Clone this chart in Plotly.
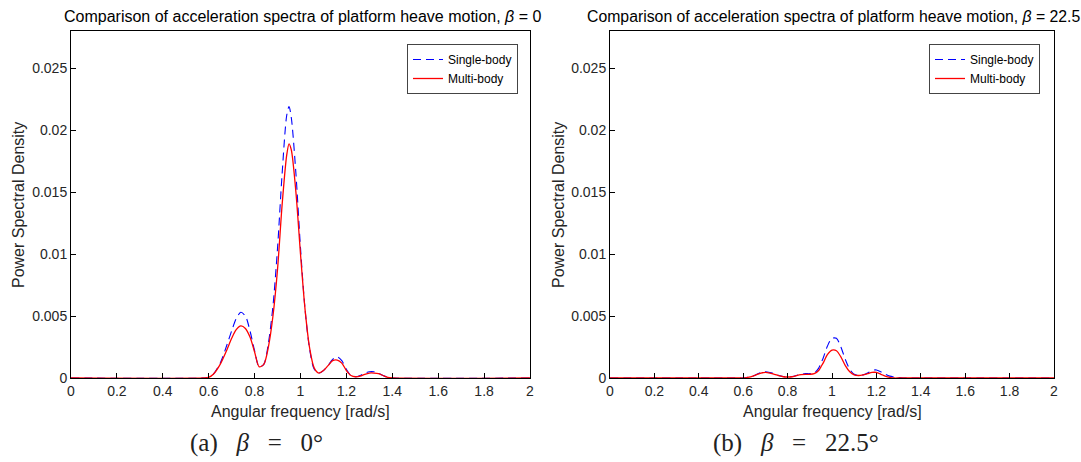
import plotly.graph_objects as go

freq = [0.0, 0.58, 0.6, 0.62, 0.65, 0.68, 0.7, 0.72, 0.74, 0.76, 0.78, 0.8, 0.82, 0.84,
        0.86, 0.88, 0.9, 0.92, 0.94, 0.95, 0.96, 0.98, 1.0, 1.02, 1.04, 1.06, 1.08, 1.1,
        1.12, 1.14, 1.16, 1.18, 1.2, 1.22, 1.24, 1.26, 1.28, 1.3, 1.32, 1.34, 1.36, 1.38,
        1.4, 2.0]

# (a) beta = 0
single_a = [0, 0, 0.00005, 0.0003, 0.0012, 0.0027, 0.0038, 0.0048, 0.0053, 0.0050, 0.0038,
            0.0022, 0.0009, 0.0011, 0.0028, 0.0058, 0.0105, 0.0165, 0.0212, 0.0219, 0.0210,
            0.0165, 0.0105, 0.0055, 0.0023, 0.0007, 0.0004, 0.0006, 0.0010, 0.0015, 0.0017,
            0.0014, 0.0007, 0.0002, 0.0001, 0.0002, 0.0004, 0.0005, 0.0005, 0.0004, 0.0002,
            0.00005, 0, 0]
multi_a = [0, 0, 0.00005, 0.0003, 0.0011, 0.0023, 0.0032, 0.0039, 0.0042, 0.0040, 0.0033,
           0.0021, 0.0009, 0.0011, 0.0025, 0.0050, 0.0088, 0.0140, 0.0180, 0.0189, 0.0184,
           0.0150, 0.0100, 0.0055, 0.0024, 0.0008, 0.0004, 0.0006, 0.0010, 0.0014, 0.00145,
           0.0012, 0.0006, 0.0002, 0.0001, 0.00015, 0.0003, 0.0004, 0.0004, 0.00035, 0.0002,
           0.00005, 0, 0]

# (b) beta = 22.5
single_b = [0, 0, 0, 0.00005, 0.0002, 0.00045, 0.0005, 0.00045, 0.00035, 0.0002, 0.00012,
            0.0001, 0.00012, 0.0002, 0.0003, 0.00035, 0.00035, 0.0004, 0.0008, 0.0012, 0.0016,
            0.0026, 0.0032, 0.0032, 0.0025, 0.0015, 0.0007, 0.0003, 0.0002, 0.00025, 0.0004,
            0.0006, 0.00065, 0.0005, 0.0003, 0.00015, 0.00008, 0.00003, 0, 0, 0, 0, 0, 0]
multi_b = [0, 0, 0, 0.00005, 0.0002, 0.0004, 0.00045, 0.0004, 0.0003, 0.0002, 0.0001,
           0.00008, 0.0001, 0.0002, 0.00028, 0.0003, 0.0003, 0.00035, 0.0006, 0.0009, 0.0012,
           0.0019, 0.00225, 0.0022, 0.0017, 0.0010, 0.0005, 0.00025, 0.0002, 0.00025, 0.00035,
           0.00045, 0.00045, 0.0003, 0.00015, 0.00005, 0, 0, 0, 0, 0, 0, 0, 0]

x_ticks = [0, 0.2, 0.4, 0.6, 0.8, 1, 1.2, 1.4, 1.6, 1.8, 2]
x_labels = ["0", "0.2", "0.4", "0.6", "0.8", "1", "1.2", "1.4", "1.6", "1.8", "2"]
y_ticks = [0, 0.005, 0.01, 0.015, 0.02, 0.025]
y_labels = ["0", "0.005", "0.01", "0.015", "0.02", "0.025"]

titles = ["Comparison of acceleration spectra of platform heave motion, <i>β</i> = 0",
          "Comparison of acceleration spectra of platform heave motion, <i>β</i> = 22.5"]
SP = "&nbsp;&nbsp;&nbsp;"
captions = ["(a)" + SP + "<i>β</i>" + SP + "=" + SP + "0°",
            "(b)" + SP + "<i>β</i>" + SP + "=" + SP + "22.5°"]

W, H = 1081, 462
fig = go.Figure()

BLUE = "#0000ff"
RED = "#ff0000"
DASH = "8px,5px"
SANS = "Liberation Sans, Arial, sans-serif"
SERIF = "Liberation Serif, DejaVu Serif, serif"

for i, (s, m) in enumerate([(single_a, multi_a), (single_b, multi_b)]):
    xa = "x" if i == 0 else "x2"
    ya = "y" if i == 0 else "y2"
    lg = "legend" if i == 0 else "legend2"
    fig.add_trace(go.Scatter(x=freq, y=s, mode="lines", name="Single-body",
                             line=dict(color=BLUE, width=1.1, dash=DASH, shape="spline", smoothing=0.8),
                             xaxis=xa, yaxis=ya, legend=lg))
    fig.add_trace(go.Scatter(x=freq, y=m, mode="lines", name="Multi-body",
                             line=dict(color=RED, width=1.3, shape="spline", smoothing=0.8),
                             xaxis=xa, yaxis=ya, legend=lg))

def px_x(p):
    return p / W

def px_y(p):
    return 1 - p / H

top, bottom = 31, 378
dom_y = [px_y(bottom), px_y(top)]
dom_x1 = [px_x(71), px_x(530)]
dom_x2 = [px_x(610), px_x(1054)]

axis_common = dict(showline=True, mirror=True, linecolor="black", linewidth=1,
                   ticks="inside", ticklen=5, tickcolor="black", showgrid=False,
                   zeroline=False, automargin=False,
                   tickfont=dict(family=SANS, size=14, color="#262626"))

fig.update_layout(
    template="none",
    width=W, height=H,
    margin=dict(l=0, r=0, t=0, b=0, pad=0),
    paper_bgcolor="white", plot_bgcolor="white",
    xaxis=dict(domain=dom_x1, range=[0, 2], tickvals=x_ticks, ticktext=x_labels, anchor="y", **axis_common),
    yaxis=dict(domain=dom_y, range=[0, 0.028], tickvals=y_ticks, ticktext=y_labels, anchor="x", **axis_common),
    xaxis2=dict(domain=dom_x2, range=[0, 2], tickvals=x_ticks, ticktext=x_labels, anchor="y2", **axis_common),
    yaxis2=dict(domain=dom_y, range=[0, 0.028], tickvals=y_ticks, ticktext=y_labels, anchor="x2", **axis_common),
    legend=dict(x=px_x(518), y=px_y(44), xanchor="right", yanchor="top",
                bordercolor="#444", borderwidth=1, bgcolor="white",
                font=dict(family=SANS, size=12, color="black"),
                tracegroupgap=0, itemwidth=30),
    legend2=dict(x=px_x(1040), y=px_y(44), xanchor="right", yanchor="top",
                 bordercolor="#444", borderwidth=1, bgcolor="white",
                 font=dict(family=SANS, size=12, color="black"),
                 tracegroupgap=0, itemwidth=30),
    showlegend=True,
)

ann = []
ann.append(dict(text=titles[0], x=px_x(62), y=px_y(16), xref="paper", yref="paper",
                xanchor="left", yanchor="middle", showarrow=False,
                font=dict(family=SANS, size=16, color="black")))
ann.append(dict(text=titles[1], x=px_x(585), y=px_y(16), xref="paper", yref="paper",
                xanchor="left", yanchor="middle", showarrow=False,
                font=dict(family=SANS, size=15.8, color="black")))
for cx, ylx in [(300, 18), (832, 558)]:
    ann.append(dict(text="Angular frequency [rad/s]", x=px_x(cx), y=px_y(411), xref="paper", yref="paper",
                    xanchor="center", yanchor="middle", showarrow=False,
                    font=dict(family=SANS, size=16, color="#262626")))
    ann.append(dict(text="Power Spectral Density", x=px_x(ylx), y=px_y(205), xref="paper", yref="paper",
                    xanchor="center", yanchor="middle", showarrow=False, textangle=-90,
                    font=dict(family=SANS, size=16, color="#262626")))
for cx, txt in [(256, captions[0]), (796, captions[1])]:
    ann.append(dict(text=txt, x=px_x(cx), y=px_y(443), xref="paper", yref="paper",
                    xanchor="center", yanchor="middle", showarrow=False,
                    font=dict(family=SERIF, size=25, color="#222")))
fig.update_layout(annotations=ann)

fig.write_html("out.html",
               config={"displayModeBar": False},
               post_script="document.body.style.margin='0';document.body.style.overflow='hidden';")
